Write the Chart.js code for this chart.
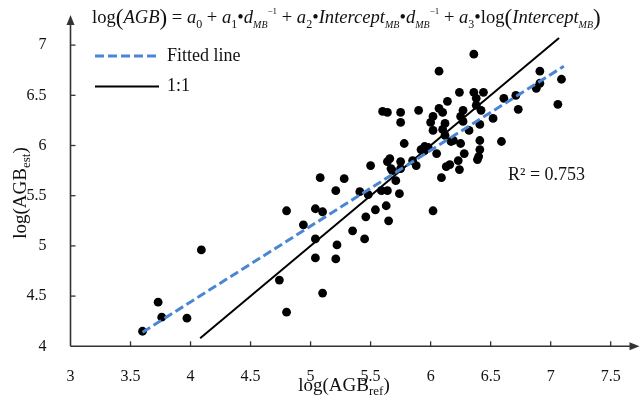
<!DOCTYPE html>
<html><head><meta charset="utf-8">
<script src="https://cdn.jsdelivr.net/npm/chart.js@4"></script>
<style>html,body{margin:0;padding:0;background:#fff}</style>
</head><body>
<canvas id="c" width="644" height="400"></canvas>
<script>
// ---- data ----
const xRef = [3.60,3.73,3.76,3.97,4.09,4.74,4.80,4.80,4.94,5.04,5.10,5.08,5.04,5.04,5.10,5.21,5.28,5.22,5.21,5.35,5.45,5.41,5.48,5.46,5.54,5.50,5.59,5.64,5.63,5.65,5.64,5.66,5.68,5.71,5.74,5.75,5.75,5.78,5.88,5.85,5.92,5.95,5.98,6.02,6.05,6.09,6.13,6.16,6.17,6.23,6.24,6.36,6.07,6.91,7.09,7.06,6.88,6.91,6.73,6.71,6.61,6.59,6.52,6.44,6.36,6.38,6.38,6.42,6.41,6.24,6.14,6.27,6.25,6.27,6.07,6.10,6.12,6.02,6.00,5.90,5.75,5.75,5.64,5.60,6.02,6.10,6.12,6.32,6.19,6.41,6.25,6.41,6.40,6.39,6.28,5.95,5.67];
const yEst = [4.15,4.44,4.29,4.28,4.96,4.66,4.34,5.35,5.21,5.37,5.34,5.68,5.07,4.88,4.53,5.55,5.67,5.01,4.87,5.15,5.07,5.54,5.51,5.29,5.36,5.80,5.55,5.55,5.40,5.25,5.84,5.87,5.75,5.65,5.52,5.84,5.77,6.02,5.80,5.85,5.96,5.99,5.98,5.35,5.92,5.68,5.79,5.81,6.04,5.85,5.76,6.91,6.74,6.74,6.66,6.41,6.57,6.62,6.36,6.50,6.47,6.04,6.27,6.53,6.53,6.47,6.40,6.35,6.21,6.53,6.44,6.35,6.29,6.24,6.37,6.33,6.22,6.29,6.23,6.35,6.33,6.23,6.33,6.34,6.15,6.16,6.10,6.15,6.05,6.05,6.02,5.96,5.89,5.86,5.92,5.95,5.77];
const fitX = [3.60, 7.11];
const fitY = [4.14, 6.79];
const oneX = [4.08, 7.07];
const oneY = [4.08, 7.07];
const xTicks = [3,3.5,4,4.5,5,5.5,6,6.5,7,7.5];
const yTicks = [4,4.5,5,5.5,6,6.5,7];
const legendLabels = ['Fitted line', '1:1'];
const r2Label = 'R\u00B2 = 0.753';
const xTitleParts = ['log(AGB', 'ref', ')'];
const yTitleParts = ['log(AGB', 'est', ')'];

const SERIF = '"Liberation Serif", "Times New Roman", serif';
const BLUE = '#4A86D4';

function pts(xs, ys){ return xs.map((x,i)=>({x:x, y:ys[i]})); }

// formula segments: [text, style]
const formula = [
 ['log','n'],['(','p'],['AGB','i'],[')','p'],[' = ','n'],
 ['a','i'],['0','sub'],[' + ','n'],
 ['a','i'],['1','sub'],['\u2022','n'],['d','i'],['MB','subi'],['\u22121','sup'],[' + ','n'],
 ['a','i'],['2','sub'],['\u2022','n'],['Intercept','i'],['MB','subi'],['\u2022','n'],['d','i'],['MB','subi'],['\u22121','sup'],[' + ','n'],
 ['a','i'],['3','sub'],['\u2022','n'],['log','n'],['(','p'],['Intercept','i'],['MB','subi'],[')','p']
];

function segFont(style, S){
  switch(style){
    case 'i': return 'italic ' + S + 'px ' + SERIF;
    case 'p': return Math.round(S*1.25) + 'px ' + SERIF;
    case 'sub': return Math.round(S*0.62) + 'px ' + SERIF;
    case 'subi': return 'italic ' + Math.round(S*0.55) + 'px ' + SERIF;
    case 'sup': return Math.round(S*0.5) + 'px ' + SERIF;
    default: return S + 'px ' + SERIF;
  }
}
function segDy(style, S){
  if (style==='sub' || style==='subi') return S*0.28;
  if (style==='sup') return -S*0.5;
  if (style==='p') return S*0.1;
  return 0;
}
function drawFormula(ctx, x0, baseY, targetW){
  let S = 17;
  const measure = (S)=>{ let w=0; formula.forEach(([t,s])=>{ ctx.font = segFont(s,S); w += ctx.measureText(t).width; }); return w; };
  S = S * targetW / measure(S);
  let x = x0;
  ctx.textBaseline = 'alphabetic';
  ctx.textAlign = 'left';
  formula.forEach(([t,s])=>{
    ctx.font = segFont(s,S);
    ctx.fillText(t, x, baseY + segDy(s,S));
    x += ctx.measureText(t).width;
  });
}

function drawSubTitle(ctx, parts, size){
  const f1 = size + 'px ' + SERIF, f2 = Math.round(size*0.68) + 'px ' + SERIF;
  ctx.font = f1; const w0 = ctx.measureText(parts[0]).width, w2 = ctx.measureText(parts[2]).width;
  ctx.font = f2; const w1 = ctx.measureText(parts[1]).width;
  const tw = w0+w1+w2; let x = -tw/2;
  ctx.textAlign='left'; ctx.textBaseline='alphabetic';
  const by = size*0.33;
  ctx.font = f1; ctx.fillText(parts[0], x, by); x += w0;
  ctx.font = f2; ctx.fillText(parts[1], x, by + size*0.18); x += w1;
  ctx.font = f1; ctx.fillText(parts[2], x, by);
}

const decor = {
  id: 'decor',
  afterDraw(chart){
    const ctx = chart.ctx, a = chart.chartArea;
    const xs = chart.scales.x, ys = chart.scales.y;
    ctx.save();
    ctx.strokeStyle = '#333'; ctx.fillStyle = '#333'; ctx.lineWidth = 1.6;
    const L = a.left, B = a.bottom;
    ctx.beginPath(); ctx.moveTo(L, B); ctx.lineTo(L, a.top + 6); ctx.stroke();
    ctx.beginPath(); ctx.moveTo(L, B); ctx.lineTo(a.right - 6, B); ctx.stroke();
    ctx.beginPath(); ctx.moveTo(L, a.top); ctx.lineTo(L-4, a.top+10); ctx.lineTo(L+4, a.top+10); ctx.closePath(); ctx.fill();
    ctx.beginPath(); ctx.moveTo(a.right, B); ctx.lineTo(a.right-10, B-4); ctx.lineTo(a.right-10, B+4); ctx.closePath(); ctx.fill();
    ctx.lineWidth = 1.3;
    xTicks.forEach(v=>{ if (v===xs.min) return; const p = xs.getPixelForValue(v); ctx.beginPath(); ctx.moveTo(p, B); ctx.lineTo(p, B-5); ctx.stroke(); });
    yTicks.forEach(v=>{ if (v===ys.min) return; const p = ys.getPixelForValue(v); ctx.beginPath(); ctx.moveTo(L, p); ctx.lineTo(L+5, p); ctx.stroke(); });
    ctx.fillStyle = '#111';
    ctx.save(); ctx.translate(344, 385); drawSubTitle(ctx, xTitleParts, 19); ctx.restore();
    ctx.save(); ctx.translate(20, 193); ctx.rotate(-Math.PI/2); drawSubTitle(ctx, yTitleParts, 19); ctx.restore();
    drawFormula(ctx, 92, 23, 510);
    ctx.lineWidth = 3; ctx.strokeStyle = BLUE; ctx.setLineDash([9,4]);
    ctx.beginPath(); ctx.moveTo(95, 56); ctx.lineTo(159, 56); ctx.stroke();
    ctx.setLineDash([]); ctx.lineWidth = 2; ctx.strokeStyle = '#000';
    ctx.beginPath(); ctx.moveTo(95, 86.5); ctx.lineTo(159, 86.5); ctx.stroke();
    ctx.font = '18px ' + SERIF; ctx.textAlign='left'; ctx.textBaseline='middle'; ctx.fillStyle='#111';
    ctx.fillText(legendLabels[0], 167, 56);
    ctx.fillText(legendLabels[1], 167, 86.5);
    ctx.font = '18px ' + SERIF;
    ctx.fillText(r2Label, 508, 175);
    ctx.restore();
  }
};

new Chart(document.getElementById('c'), {
  type: 'scatter',
  data: {
    datasets: [
      { label: legendLabels[0], data: pts(fitX, fitY), showLine: true, borderColor: BLUE, borderWidth: 3, borderDash: [9,4], pointRadius: 0, order: 1 },
      { label: legendLabels[1], data: pts(oneX, oneY), showLine: true, borderColor: '#000', borderWidth: 2, pointRadius: 0, order: 2 },
      { label: 'data', data: pts(xRef, yEst), pointRadius: 4.4, pointBackgroundColor: '#000', pointBorderWidth: 0, borderColor: '#000', order: 3 }
    ]
  },
  options: {
    responsive: false, animation: false, devicePixelRatio: 1,
    layout: { padding: { left: 0, right: 4.5, top: 15, bottom: 0 } },
    plugins: { legend: { display: false }, tooltip: { enabled: false } },
    scales: {
      x: {
        type: 'linear', min: 3, max: 7.74,
        afterBuildTicks: s => { s.ticks = xTicks.map(v => ({ value: v })); },
        afterFit: s => { s.height = 53.7; s.paddingLeft = 0; s.paddingRight = 0; },
        grid: { display: false }, border: { display: false },
        ticks: { padding: 13, color: '#111', font: { family: SERIF, size: 16 }, callback: v => String(v), maxRotation: 0, autoSkip: false }
      },
      y: {
        type: 'linear', min: 4, max: 7.3,
        afterBuildTicks: s => { s.ticks = yTicks.map(v => ({ value: v })); },
        afterFit: s => { s.width = 70.5; s.paddingTop = 0; s.paddingBottom = 0; },
        grid: { display: false }, border: { display: false },
        ticks: { padding: 16, color: '#111', font: { family: SERIF, size: 16 }, callback: v => String(v), autoSkip: false }
      }
    }
  },
  plugins: [decor]
});
</script>
</body></html>
